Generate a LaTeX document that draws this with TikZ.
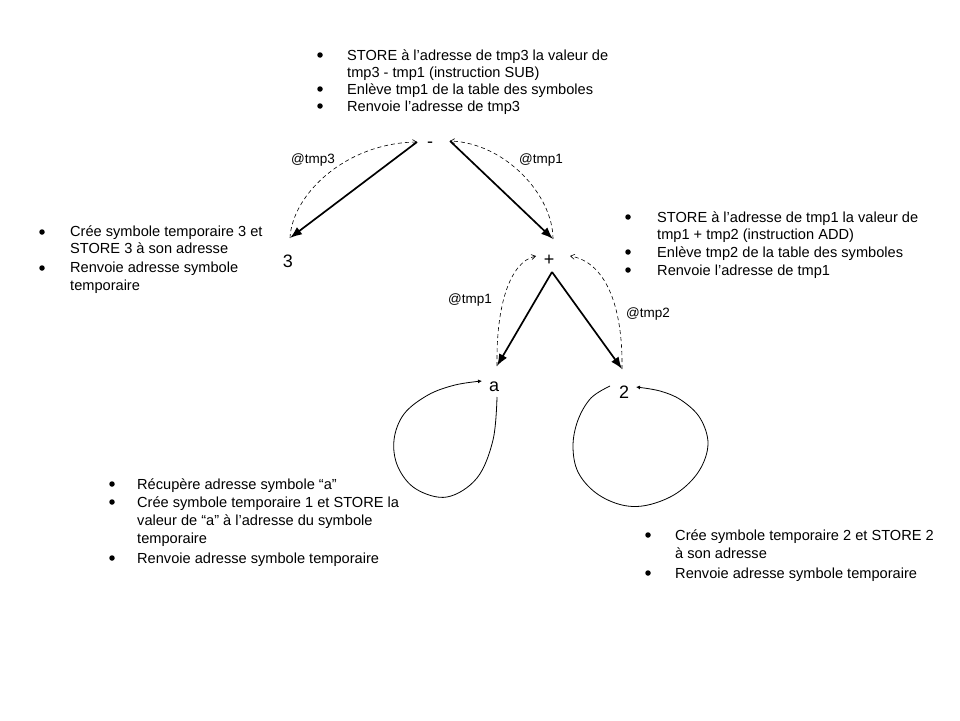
\documentclass[tikz,border=0pt]{standalone}
\usepackage{fontspec}
\setmainfont{Liberation Sans}
\usetikzlibrary{arrows.meta}
\begin{document}
\begin{tikzpicture}[x=1pt,y=-1pt,
  txt/.style={anchor=base west,inner sep=0pt,font=\fontsize{14.6}{17}\selectfont},
  sym/.style={inner sep=0pt,font=\fontsize{18}{20}\selectfont},
  lab/.style={inner sep=0pt,font=\fontsize{13.5}{15}\selectfont},
  bul/.style={circle,fill=black,inner sep=0pt,minimum size=5.5pt},
  solidarrow/.style={line width=1.7pt,-{Latex[length=12pt,width=9pt]}},
  dasharrow/.style={line width=0.6pt,dash pattern=on 4pt off 3pt,-{Straight Barb[length=4pt,width=5pt]}},
  looparrow/.style={line width=0.8pt,-{Latex[length=4pt,width=4pt]}}
]
\useasboundingbox (0,0) rectangle (960,720);

% symbol nodes
\node[sym] (minus) at (430,145) {-};
\node[sym] (three) at (288,261) {3};
\node[sym] (plus) at (549,260) {+};
\node[sym] (a) at (494,387) {a};
\node[sym] (two) at (624,392) {2};

% anchor coordinates for connectors
\coordinate (mL) at (417,142);
\coordinate (mR) at (450,141);
\coordinate (tT) at (290,238);
\coordinate (pT) at (553,239);
\coordinate (pB) at (552,272);
\coordinate (aT) at (497,366);
\coordinate (wT) at (622,369);
\coordinate (pTL) at (536,256);
\coordinate (pTR) at (570,256);

% solid arrows
\draw[solidarrow] (mL) -- (tT);
\draw[solidarrow] (mR) -- (pT);
\draw[solidarrow] (pB) -- (aT);
\draw[solidarrow] (pB) -- (wT);

% dashed return arrows
\draw[dasharrow] (tT) .. controls (292,195) and (345,143) .. (mL);
\draw[dasharrow] (pT) .. controls (553,195) and (505,143) .. (mR);
\draw[dasharrow] (aT) .. controls (496,305) and (510,262) .. (pTL);
\draw[dasharrow] (wT) .. controls (623,305) and (605,262) .. (pTR);

% labels
\node[lab] (l1) at (313,160) {@tmp3};
\node[lab] (l2) at (541,160) {@tmp1};
\node[lab] (l3) at (470,300) {@tmp1};
\node[lab] (l4) at (648,314) {@tmp2};

% loops
\draw[looparrow] plot[smooth,tension=0.6] coordinates {(497,397) (493,440) (477,478) (447,497) (416,489) (398,467) (394,440) (404,414) (428,395) (455,385) (482,381)};
\draw[looparrow] plot[smooth,tension=0.6] coordinates {(610,386) (591,398) (578,420) (573,446) (578,472) (596,493) (622,505) (648,505) (677,493) (699,471) (708,444) (700,418) (681,400) (660,391) (636,387)};

% top block
\node[bul] (b1) at (320,55) {};
\node[txt] (t1) at (347,60) {STORE à l’adresse de tmp3 la valeur de};
\node[txt] (t2) at (347,77) {tmp3 - tmp1 (instruction SUB)};
\node[bul] (b2) at (320,89) {};
\node[txt] (t3) at (347,94) {Enlève tmp1 de la table des symboles};
\node[bul] (b3) at (320,106) {};
\node[txt] (t4) at (347,111) {Renvoie l’adresse de tmp3};

% left block
\node[bul] (b4) at (42,232) {};
\node[txt] (t5) at (70,236) {Crée symbole temporaire 3 et};
\node[txt] (t6) at (70,253) {STORE 3 à son adresse};
\node[bul] (b5) at (42,268) {};
\node[txt] (t7) at (70,272) {Renvoie adresse symbole};
\node[txt] (t8) at (70,290) {temporaire};

% right block
\node[bul] (b6) at (628,217) {};
\node[txt] (t9) at (657,222) {STORE à l’adresse de tmp1 la valeur de};
\node[txt] (t10) at (657,239) {tmp1 + tmp2 (instruction ADD)};
\node[bul] (b7) at (628,252) {};
\node[txt] (t11) at (657,257) {Enlève tmp2 de la table des symboles};
\node[bul] (b8) at (628,270) {};
\node[txt] (t12) at (657,275) {Renvoie l’adresse de tmp1};

% bottom-left block
\node[bul] (b9) at (112,484) {};
\node[txt] (t13) at (137,489) {Récupère adresse symbole “a”};
\node[bul] (b10) at (112,502) {};
\node[txt] (t14) at (137,507) {Crée symbole temporaire 1 et STORE la};
\node[txt] (t15) at (137,525) {valeur de “a” à l’adresse du symbole};
\node[txt] (t16) at (137,543) {temporaire};
\node[bul] (b11) at (112,558) {};
\node[txt] (t17) at (137,563) {Renvoie adresse symbole temporaire};

% bottom-right block
\node[bul] (b12) at (648,535) {};
\node[txt] (t18) at (675,540) {Crée symbole temporaire 2 et STORE 2};
\node[txt] (t19) at (675,558) {à son adresse};
\node[bul] (b13) at (648,573) {};
\node[txt] (t20) at (675,578) {Renvoie adresse symbole temporaire};
\end{tikzpicture}
\end{document}
